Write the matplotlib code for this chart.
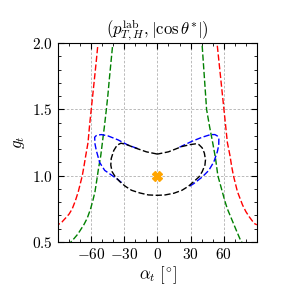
import numpy as np
import matplotlib
matplotlib.use("Agg")
import matplotlib.pyplot as plt
from matplotlib.ticker import MultipleLocator, FuncFormatter

# Red dashed curves (left and right branch)
red_left_x = [-54.1, -55.5, -57.0, -58.5, -59.9, -61.4, -62.8, -64.9, -66.5, -68.0, -69.8, -71.6, -74.3, -77.1, -80.0, -83.2, -86.5, -90.0]
red_left_y = [1.97, 1.85, 1.73, 1.61, 1.50, 1.38, 1.25, 1.15, 1.07, 1.00, 0.94, 0.88, 0.81, 0.75, 0.71, 0.68, 0.65, 0.63]
red_right_x = [54.2, 55.7, 57.2, 58.7, 60.2, 61.7, 63.3, 65.7, 67.2, 68.8, 70.6, 72.4, 74.7, 77.0, 80.0, 83.1, 87.6, 90.0]
red_right_y = [1.98, 1.86, 1.74, 1.62, 1.50, 1.38, 1.25, 1.15, 1.07, 1.00, 0.94, 0.88, 0.83, 0.78, 0.73, 0.69, 0.64, 0.63]

# Green dashed curves
green_left_x = [-40.7, -42.1, -43.5, -44.8, -46.2, -48.0, -49.8, -51.3, -53.4, -55.0, -56.5, -58.5, -60.5, -63.5, -66.6, -72.0, -77.1, -78.5]
green_left_y = [1.97, 1.85, 1.73, 1.61, 1.50, 1.37, 1.25, 1.15, 1.05, 0.96, 0.88, 0.81, 0.75, 0.68, 0.63, 0.56, 0.51, 0.50]
green_right_x = [40.5, 41.5, 42.5, 43.5, 44.5, 47.2, 50.0, 52.6, 54.7, 56.7, 58.7, 61.0, 63.3, 66.3, 69.3, 72.3, 75.4, 76.5]
green_right_y = [1.98, 1.86, 1.74, 1.62, 1.50, 1.37, 1.25, 1.13, 1.00, 0.94, 0.88, 0.81, 0.75, 0.69, 0.63, 0.57, 0.51, 0.50]

# Black closed contour
black_x = [0, -10, -20.3, -28, -33, -36.5, -39.5, -41.8, -42.2, -41, -38, -34, -29, -23.4, -16, -8.2, 0,
           7, 15, 22.2, 28, 32.8, 37.5, 40.5, 43, 43.5, 42.5, 40.5, 37.5, 34.4, 30, 22.2, 10, 0]
black_y = [1.163, 1.18, 1.21, 1.235, 1.245, 1.23, 1.19, 1.13, 1.08, 1.03, 0.99, 0.955, 0.92, 0.89, 0.87, 0.855, 0.852,
           0.855, 0.868, 0.89, 0.92, 0.955, 0.99, 1.03, 1.08, 1.12, 1.17, 1.21, 1.235, 1.24, 1.235, 1.22, 1.18, 1.163]

# Blue contour lobes (middle part coincides with the black contour)
blue_left_x = [-18, -26.4, -35.6, -44.7, -50.7, -55, -56.8, -56.5, -55.3, -52.3, -47.7, -41.6, -35.6, -32]
blue_left_y = [1.205, 1.23, 1.27, 1.30, 1.31, 1.305, 1.29, 1.24, 1.19, 1.10, 1.04, 1.005, 0.97, 0.945]
blue_right_x = [20, 31.4, 40.5, 48.1, 52, 54.2, 55.6, 55.5, 54.2, 51.1, 46.5, 40.5, 32.8, 29]
blue_right_y = [1.215, 1.26, 1.29, 1.31, 1.31, 1.30, 1.28, 1.23, 1.18, 1.105, 1.04, 0.99, 0.94, 0.92]

sm_x = [0]
sm_y = [1.0]

plt.rcParams['mathtext.fontset'] = 'cm'
plt.rcParams['font.family'] = 'serif'
plt.rcParams['font.serif'] = ['DejaVu Serif']

fig = plt.figure(figsize=(2.87, 2.93), dpi=100)
ax = fig.add_axes([0.202, 0.174, 0.693, 0.679])

lw = 1.0
dash = (4.5, 1.8)
ax.plot(red_left_x, red_left_y, color='red', ls='--', lw=lw, dashes=dash)
ax.plot(red_right_x, red_right_y, color='red', ls='--', lw=lw, dashes=dash)
ax.plot(green_left_x, green_left_y, color='green', ls='--', lw=lw, dashes=dash)
ax.plot(green_right_x, green_right_y, color='green', ls='--', lw=lw, dashes=dash)
ax.plot(blue_left_x, blue_left_y, color='blue', ls='--', lw=lw, dashes=dash)
ax.plot(blue_right_x, blue_right_y, color='blue', ls='--', lw=lw, dashes=dash)
ax.plot(black_x, black_y, color='black', ls='--', lw=lw, dashes=dash)
ax.plot(sm_x, sm_y, marker='X', color='orange', ms=7, ls='none', zorder=5)

ax.set_xlim(-90, 90)
ax.set_ylim(0.5, 2.0)
ax.xaxis.set_major_locator(MultipleLocator(30))
ax.xaxis.set_minor_locator(MultipleLocator(10))
ax.yaxis.set_major_locator(MultipleLocator(0.5))
ax.yaxis.set_minor_locator(MultipleLocator(0.1))
ax.set_xticks([-60, -30, 0, 30, 60])
ax.xaxis.set_major_formatter(FuncFormatter(lambda v, p: f"${v:g}$"))
ax.yaxis.set_major_formatter(FuncFormatter(lambda v, p: f"${v:.1f}$"))
ax.tick_params(which='both', direction='in', top=True, right=True, labelsize=11)
ax.tick_params(which='major', length=4, width=0.8)
ax.tick_params(which='minor', length=2, width=0.6)
ax.grid(True, which='major', color='#b0b0b0', ls='--', lw=0.6, dashes=(3, 2))

ax.set_xlabel(r"$\alpha_t\ [{}^{\circ}]$", fontsize=12, labelpad=2)
ax.set_ylabel(r"$g_t$", fontsize=12, labelpad=4)
ax.set_title(r"$(p_{T,H}^{\rm lab}, |\cos\theta^{*}|)$", fontsize=12, pad=5)

fig.savefig("out.png", dpi=100)
